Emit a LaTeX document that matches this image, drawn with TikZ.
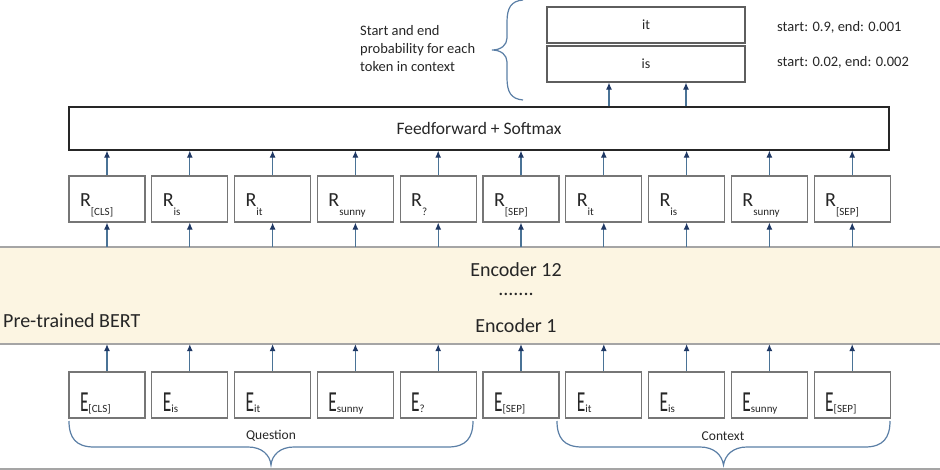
\documentclass[tikz,border=0pt]{standalone}
\usepackage{fontspec}
\setmainfont{Carlito}
\usepackage{graphicx}
\usetikzlibrary{arrows.meta,positioning}

\definecolor{boxgray}{HTML}{767676}
\definecolor{arrowline}{HTML}{4A7396}
\definecolor{arrowhead}{HTML}{1F3864}
\definecolor{bandfill}{HTML}{FCF5E2}
\definecolor{bandline}{HTML}{A5A5A5}
\definecolor{bracecol}{HTML}{5B7FA6}
\definecolor{txt}{HTML}{262626}

\newcommand{\rtok}[1]{\fontsize{20}{20}\selectfont R\raisebox{-9pt}{\fontsize{11}{11}\selectfont #1}}
\newcommand{\etok}[1]{\scalebox{0.6}[1]{\fontsize{29}{29}\selectfont E}\raisebox{-1pt}{\fontsize{11}{11}\selectfont #1}}

\begin{document}
\begin{tikzpicture}[x=1pt,y=-1pt,>={Latex[length=7pt,width=6pt,color=arrowhead]},
                    node distance=82.8pt,text=txt]

  \useasboundingbox (0,0) rectangle (940,470);

  \tikzstyle{tokbox}=[rectangle,draw=boxgray,line width=1.2pt,minimum width=76pt,
                      minimum height=46pt,inner xsep=11pt,inner ysep=0pt,
                      text width=54pt,align=left]
  \tikzstyle{rbox}=[tokbox,text height=20pt,text depth=4pt]
  \tikzstyle{ebox}=[tokbox,text height=34pt,text depth=2pt]
  \tikzstyle{outbox}=[rectangle,draw=boxgray!80!black,line width=1.2pt,minimum width=198pt,
                      minimum height=36pt,font=\fontsize{14}{16}\selectfont]
  \tikzstyle{up}=[->,draw=arrowline,line width=1.1pt]
  \tikzstyle{brace}=[draw=bracecol,line width=1.2pt]
  \tikzstyle{note}=[inner sep=0pt,font=\fontsize{14.5}{18}\selectfont]
  \tikzstyle{big}=[inner sep=0pt,font=\fontsize{20}{22}\selectfont]

  % pre-trained BERT band
  \node[fill=bandfill,minimum width=944pt,minimum height=97pt,inner sep=0pt]
        (bert) at (470,295.5) {};
  \draw[bandline,line width=1.5pt] (bert.north west) -- (bert.north east);
  \draw[bandline,line width=1.5pt] (bert.south west) -- (bert.south east);
  \node[big]                (enc12) at (516,270) {Encoder 12};
  \node[big]                (dots)  at (516,294) {.......};
  \node[big]                (enc1)  at (516,326) {Encoder 1};
  \node[big,anchor=base west] (bertlabel) at (3,328) {Pre-trained BERT};

  % output representations
  \node[rbox] (R1) at (107,199) {\rtok{[CLS]}};
  \node[rbox] (R2)  [right of=R1] {\rtok{is}};
  \node[rbox] (R3)  [right of=R2] {\rtok{it}};
  \node[rbox] (R4)  [right of=R3] {\rtok{sunny}};
  \node[rbox] (R5)  [right of=R4] {\rtok{?}};
  \node[rbox] (R6)  [right of=R5] {\rtok{[SEP]}};
  \node[rbox] (R7)  [right of=R6] {\rtok{it}};
  \node[rbox] (R8)  [right of=R7] {\rtok{is}};
  \node[rbox] (R9)  [right of=R8] {\rtok{sunny}};
  \node[rbox] (R10) [right of=R9] {\rtok{[SEP]}};

  % input embeddings
  \node[ebox] (E1) at (107,395) {\etok{[CLS]}};
  \node[ebox] (E2)  [right of=E1] {\etok{is}};
  \node[ebox] (E3)  [right of=E2] {\etok{it}};
  \node[ebox] (E4)  [right of=E3] {\etok{sunny}};
  \node[ebox] (E5)  [right of=E4] {\etok{?}};
  \node[ebox] (E6)  [right of=E5] {\etok{[SEP]}};
  \node[ebox] (E7)  [right of=E6] {\etok{it}};
  \node[ebox] (E8)  [right of=E7] {\etok{is}};
  \node[ebox] (E9)  [right of=E8] {\etok{sunny}};
  \node[ebox] (E10) [right of=E9] {\etok{[SEP]}};

  % feedforward and the two output rows
  \node[rectangle,draw=txt,line width=1.3pt,minimum width=820pt,minimum height=43pt,
        font=\fontsize{17.5}{20}\selectfont] (ff) at (479,128.5) {Feedforward + Softmax};
  \node[outbox] (it) at (646,25) {it};
  \node[outbox] (is) at (646,64) {is};
  \node[note,anchor=base west] (pit) at (777,32) {start: 0.9, end: 0.001};
  \node[note,anchor=base west] (pis) at (777,67) {start: 0.02, end: 0.002};
  \node[note,anchor=west,align=left] (explain) at (360,49)
        {Start and end\\probability for each\\token in context};

  \coordinate (o1) at ([xshift=-37pt]is.south);
  \coordinate (o2) at ([xshift=40pt]is.south);

  \foreach \i in {1,...,10} {
    \path
    (E\i) edge[up] (E\i |- bert.south)
    (R\i |- bert.north) edge[up] (R\i)
    (R\i) edge[up] (R\i |- ff.south)
    ;
  }
  \path
  (o1 |- ff.north) edge[up] (o1)
  (o2 |- ff.north) edge[up] (o2)
  ;

  % braces
  \draw[brace] (523,0) .. controls (511,1) and (507,8) .. (507,22) -- (507,38)
        .. controls (507,45) and (501,50) .. (492,50)
        .. controls (501,50) and (507,55) .. (507,62) -- (507,78)
        .. controls (507,92) and (511,99) .. (523,100);
  \draw[brace] (69,421) .. controls (69,438) and (76,447) .. (94,447) -- (248,447)
        .. controls (262,447) and (270,455) .. (271,465)
        .. controls (272,455) and (280,447) .. (294,447) -- (448,447)
        .. controls (466,447) and (473,438) .. (473,421);
  \draw[brace] (557,421) .. controls (557,438) and (564,447) .. (582,447) -- (700,447)
        .. controls (714,447) and (722,455) .. (723.5,465)
        .. controls (725,455) and (733,447) .. (747,447) -- (865,447)
        .. controls (883,447) and (890,438) .. (890,421);
  \node[note,font=\fontsize{13.5}{16}\selectfont] (question) at (271,436) {Question};
  \node[note,font=\fontsize{13.5}{16}\selectfont] (context)  at (723,436) {Context};

  \draw[bandline,line width=2pt] (0,469) -- (940,469);
\end{tikzpicture}
\end{document}
